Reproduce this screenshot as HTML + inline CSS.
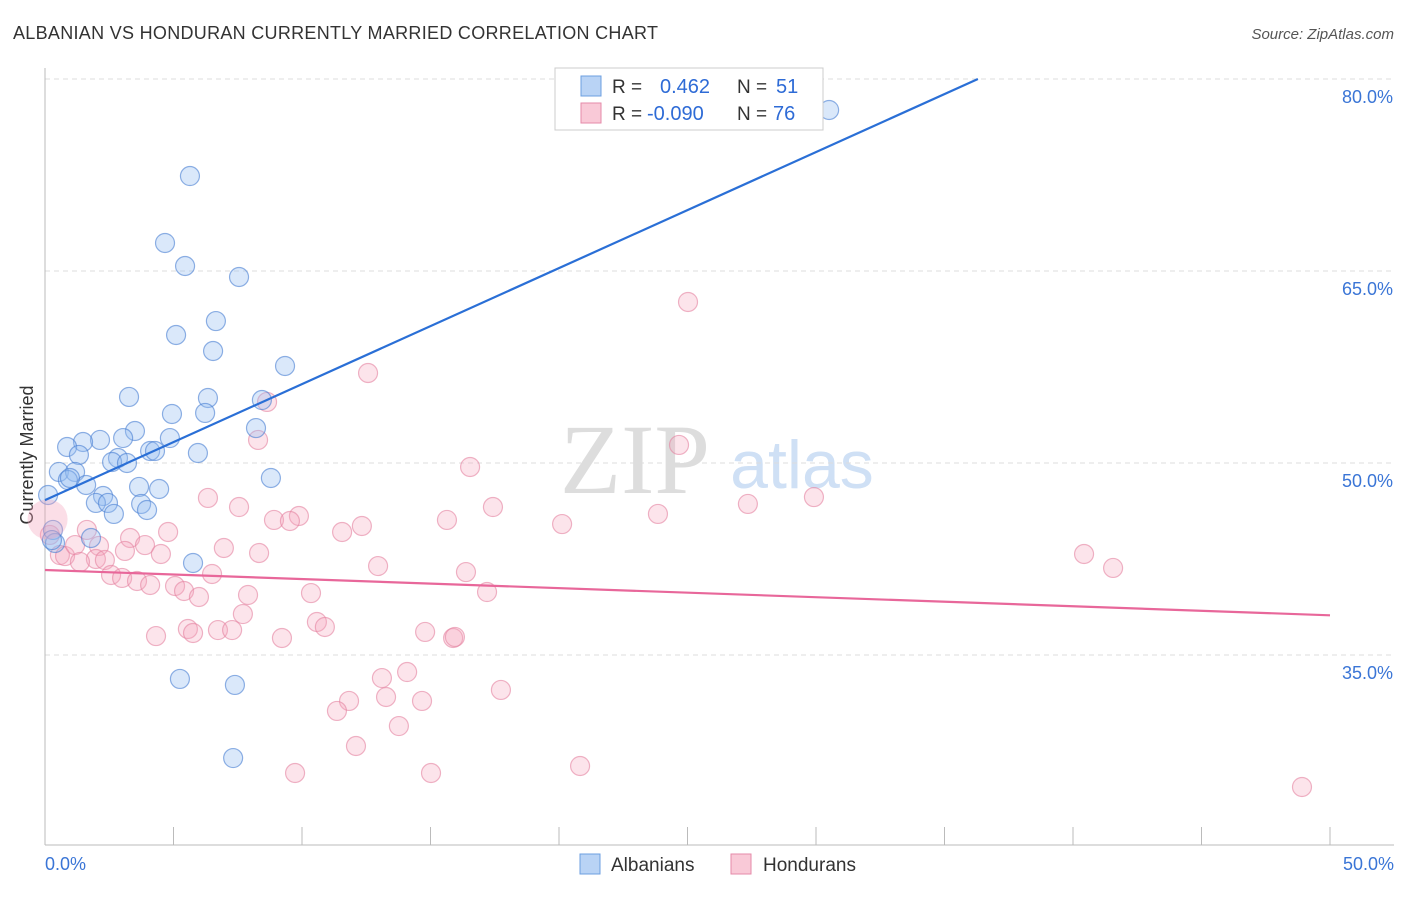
<!DOCTYPE html>
<html><head><meta charset="utf-8"><style>
body{margin:0;background:#fff;font-family:"Liberation Sans",sans-serif}
svg text{font-family:"Liberation Sans",sans-serif}
</style></head><body>
<svg id="c" width="1406" height="892">
<text x="13" y="39" font-size="18" fill="#333" textLength="645">ALBANIAN VS HONDURAN CURRENTLY MARRIED CORRELATION CHART</text>
<text x="1394" y="39" font-size="15" fill="#555" font-style="italic" text-anchor="end">Source: ZipAtlas.com</text>
<text x="33" y="455" font-size="18" fill="#333" transform="rotate(-90 33 455)" text-anchor="middle">Currently Married</text>
<text x="635" y="493" font-size="100" fill="#ddd" text-anchor="middle" style="font-family:'Liberation Serif',serif">ZIP</text>
<text x="802" y="488" font-size="68" fill="#cfe0f5" text-anchor="middle">atlas</text>
<g id="grid"></g><g id="pts"></g><g id="lines"></g>
<g>
<rect x="555" y="68" width="268" height="62" fill="#fff" stroke="#ccc"/>
<rect x="581" y="76" width="20" height="20" fill="#b9d3f5" stroke="#6c9fe0"/>
<rect x="581" y="103" width="20" height="20" fill="#f9c9d7" stroke="#e58aa8"/>
<text x="612" y="93" font-size="19" fill="#333">R = </text><text x="660" y="93" font-size="20" fill="#2e6bd6">0.462</text>
<text x="737" y="93" font-size="19" fill="#333">N = </text><text x="776" y="93" font-size="20" fill="#2e6bd6">51</text>
<text x="612" y="120" font-size="19" fill="#333">R = </text><text x="647" y="120" font-size="20" fill="#2e6bd6">-0.090</text>
<text x="737" y="120" font-size="19" fill="#333">N = </text><text x="773" y="120" font-size="20" fill="#2e6bd6">76</text>
</g>
<g>
<rect x="580" y="854" width="20" height="20" fill="#b9d3f5" stroke="#6c9fe0"/>
<text x="611" y="871" font-size="19" fill="#333">Albanians</text>
<rect x="731" y="854" width="20" height="20" fill="#f9c9d7" stroke="#e58aa8"/>
<text x="763" y="871" font-size="19" fill="#333">Hondurans</text>
</g>
</svg>
<script>
const yTicks=[80,65,50,35];
const yTickLabels=["80.0%","65.0%","50.0%","35.0%"];
const xTickLabels=["0.0%","50.0%"];
const bluePx=[[829,110],[190,176],[165,243],[185,266],[239,277],[176,335],[216,321],[213,351],[285,366],[129,397],[208,398],[172,414],[205,413],[262,400],[135,431],[123,438],[170,438],[256,428],[100,440],[83,442],[67,447],[79,455],[118,458],[150,451],[155,451],[112,462],[127,463],[198,453],[59,472],[75,472],[68,480],[86,485],[271,478],[48,495],[139,487],[159,489],[103,496],[96,503],[108,503],[141,504],[147,510],[114,514],[53,530],[55,543],[91,538],[193,563],[180,679],[235,685],[233,758],[52,540],[70,478]];
const pinkPx=[[688,302],[368,373],[267,402],[258,440],[679,445],[470,467],[814,497],[748,504],[208,498],[239,507],[493,507],[658,514],[447,520],[562,524],[274,520],[299,516],[290,521],[362,526],[342,532],[168,532],[87,530],[50,535],[60,555],[65,556],[75,545],[99,546],[130,538],[145,545],[125,551],[96,559],[105,560],[80,562],[161,554],[259,553],[224,548],[378,566],[466,572],[1084,554],[1113,568],[111,575],[122,578],[137,581],[150,585],[212,574],[175,586],[184,591],[199,597],[248,595],[311,593],[487,592],[243,614],[317,622],[325,627],[188,629],[193,633],[218,630],[232,630],[156,636],[282,638],[453,638],[455,637],[407,672],[382,678],[386,697],[349,701],[422,701],[337,711],[399,726],[501,690],[356,746],[295,773],[431,773],[580,766],[1302,787],[425,632]];
const blueX=bluePx.map(p=>+((p[0]-45)/1285*50).toFixed(2));
const blueY=bluePx.map(p=>+(80-(p[1]-79)/12.8).toFixed(2));
const pinkX=pinkPx.map(p=>+((p[0]-45)/1285*50).toFixed(2));
const pinkY=pinkPx.map(p=>+(80-(p[1]-79)/12.8).toFixed(2));
const blueLine=[[0,47.1],[36.3,80]];
const pinkLine=[[0,41.64],[50,38.1]];
const X=v=>45+v/50*1285, Y=v=>79+(80-v)*12.8;
const NS="http://www.w3.org/2000/svg";
function mk(t,a,p){const e=document.createElementNS(NS,t);for(const k in a)e.setAttribute(k,a[k]);p.appendChild(e);return e;}
const g=document.getElementById('grid');
yTicks.forEach((t,i)=>{
 const l=mk('line',{x1:45,x2:1394,y1:Y(t),y2:Y(t),stroke:'#ddd','stroke-dasharray':'5,4'},g);
 
 
 const tx=mk('text',{x:1393,y:Y(t)+24,'font-size':18,fill:'#3a75d6','text-anchor':'end'},g);tx.textContent=yTickLabels[i];
 
 
});
mk('line',{x1:45,x2:45,y1:68,y2:845,stroke:'#bbb'},g);
mk('line',{x1:45,x2:1394,y1:845,y2:845,stroke:'#bbb'},g);
for(let i=0;i<=10;i++){const l=mk('line',{x1:X(i*5),x2:X(i*5),y1:827,y2:845,stroke:'#bbb'},g);
 
 }
[[0,'start',45],[1,'end',1394]].forEach(([i,a,x])=>{const t=mk('text',{x:x,y:870,'font-size':18,fill:'#3a75d6','text-anchor':a},g);t.textContent=xTickLabels[i];
 
 });
const pg=document.getElementById('pts');
pinkX.forEach((x,i)=>{const c=mk('circle',{cx:X(x),cy:Y(pinkY[i]),r:9.5,fill:'rgba(244,165,190,0.3)',stroke:'rgba(228,130,160,0.6)','stroke-width':1.2},pg);
 
 });
blueX.forEach((x,i)=>{const c=mk('circle',{cx:X(x),cy:Y(blueY[i]),r:9.5,fill:'rgba(150,190,240,0.35)',stroke:'rgba(70,125,210,0.6)','stroke-width':1.2},pg);
 
 });
const big=mk('circle',{cx:X(0.1),cy:Y(45.6),r:20,fill:'rgba(244,160,186,0.35)',stroke:'none'},pg);


const lg=document.getElementById('lines');
const bl=mk('line',{x1:X(blueLine[0][0]),y1:Y(blueLine[0][1]),x2:X(blueLine[1][0]),y2:Y(blueLine[1][1]),stroke:'#2a6fd6','stroke-width':2.2},lg);


const pl=mk('line',{x1:X(pinkLine[0][0]),y1:Y(pinkLine[0][1]),x2:X(pinkLine[1][0]),y2:Y(pinkLine[1][1]),stroke:'#e8679a','stroke-width':2.2},lg);


</script>
</body></html>
